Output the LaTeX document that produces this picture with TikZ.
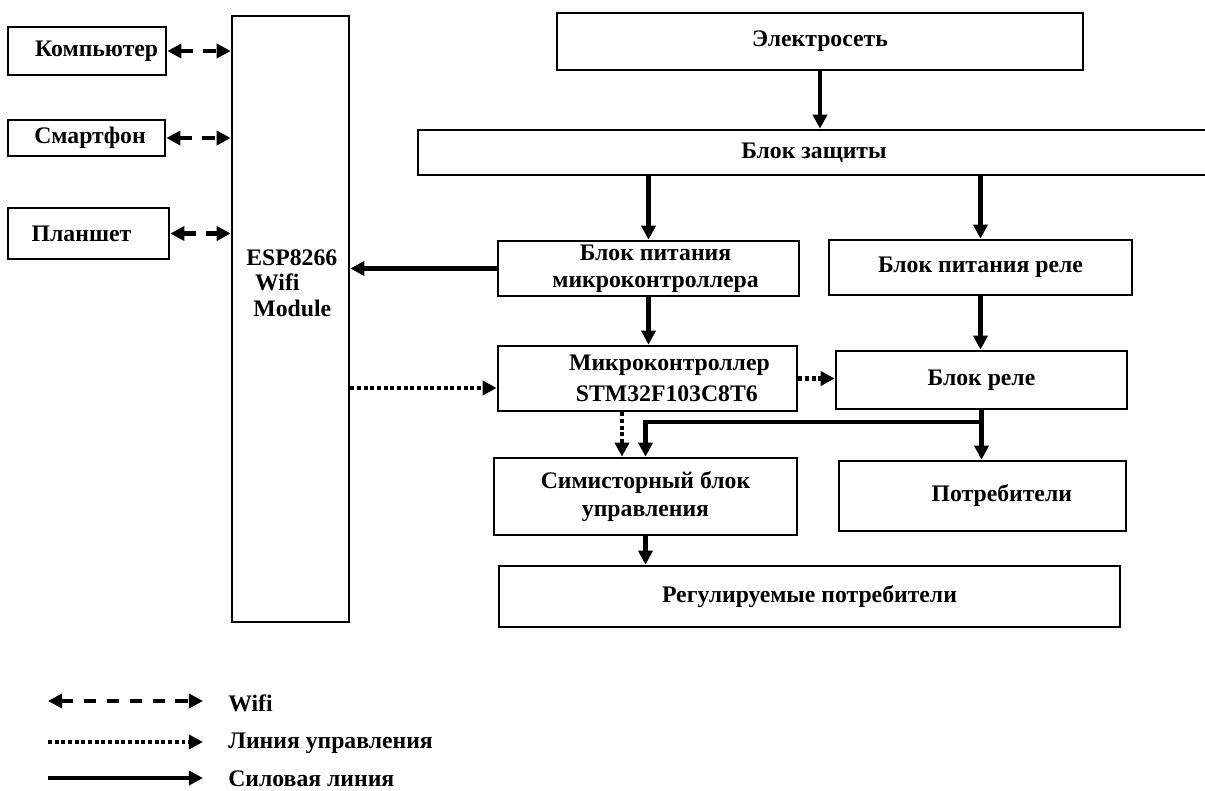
\documentclass[tikz,border=0pt]{standalone}
\usepackage{fontspec}
\setmainfont{Liberation Serif}
\usetikzlibrary{arrows.meta}

\begin{document}
\begin{tikzpicture}[x=0.02cm,y=-0.02cm,
    blk/.style={draw,line width=1.5pt,inner sep=2pt,align=center,
      font=\bfseries\fontsize{13.5}{15.5}\selectfont},
    sz/.style 2 args={minimum width=#1*0.02cm,minimum height=#2*0.02cm},
    txt/.style={inner sep=0pt,align=left,font=\bfseries\fontsize{13.5}{14.5}\selectfont},
    power/.style={line width=2.3pt,-{Triangle[length=8pt,width=8pt]}},
    ctrl/.style={power,dash pattern=on 2.2pt off 1.6pt},
    wifi/.style={line width=2.3pt,dash pattern=on 7pt off 6pt,
      {Triangle[length=8pt,width=8pt]}-{Triangle[length=8pt,width=8pt]}}]
  \useasboundingbox (0,0) rectangle (1205,791);
  % devices
  \node[blk,sz={158}{48}] (pc) at (87,51) {\hspace*{11pt}Компьютер};
  \node[blk,sz={157}{36}] (phone) at (86.5,138) {\hspace*{4pt}Смартфон};
  \node[blk,sz={161}{51}] (tablet) at (88.5,233.5) {Планшет\hspace*{8pt}};
  \node[blk,sz={117}{606}] (esp) at (290.5,319) {};
  \node[txt,anchor=west] (esptxt) at (246,283)
    {ESP8266\\\hspace*{5pt}Wifi\\\hspace*{4pt}Module};
  % power part
  \node[blk,sz={526}{57}] (grid) at (820,41.5) {Электросеть};
  \node[blk,sz={792}{45}] (prot) at (814,152.5) {Блок защиты};
  \node[blk,sz={301}{55},inner ysep=0pt,font=\bfseries\fontsize{13.5}{15.5}\selectfont] (psu) at (648.5,268.5)
    {\hspace*{8pt}Блок питания\\\hspace*{8pt}микроконтроллера};
  \node[blk,sz={303}{55}] (rpsu) at (980.5,267.5) {Блок питания реле};
  \node[blk,sz={299}{65},font=\bfseries\fontsize{13.5}{18}\selectfont] (mcu) at (647.5,378.5)
    {\hspace*{25pt}Микроконтроллер\\\hspace*{22pt}STM32F103C8T6};
  \node[blk,sz={291}{58}] (relay) at (981.5,380) {Блок реле};
  \node[blk,sz={303}{77}] (triac) at (645.5,496.5) {Симисторный блок\\управления};
  \node[blk,sz={287}{70}] (load) at (982.5,496) {\hspace*{22pt}Потребители};
  \node[blk,sz={621}{61}] (rload) at (809.5,596.5) {Регулируемые потребители};

  \draw[wifi] (pc.east) -- (pc.east -| esp.west);
  \draw[wifi] (phone.east) -- (phone.east -| esp.west);
  \draw[wifi] (tablet.east) -- (tablet.east -| esp.west);

  \begin{scope}[power]
    \draw (grid.south) -- (grid.south |- prot.north);
    \draw (psu.north |- prot.south) -- (psu.north);
    \draw (rpsu.north |- prot.south) -- (rpsu.north);
    \draw (psu.west) -- (psu.west -| esp.east);
    \draw (psu.south) -- (psu.south |- mcu.north);
    \draw (rpsu.south) -- (rpsu.south |- relay.north);
    \draw (relay.south) -- (relay.south |- load.north);
    \coordinate (split) at ([yshift=-0.24cm]relay.south);
    \draw (split) -| (triac.north);
    \draw (triac.south) -- (triac.south |- rload.north);
  \end{scope}

  \begin{scope}[ctrl]
    \coordinate (cin) at ([yshift=-0.19cm]mcu.west);
    \draw (cin -| esp.east) -- (cin);
    \draw (mcu.east) -- (mcu.east -| relay.west);
    \coordinate (cout) at ([xshift=-0.51cm]mcu.south);
    \draw (cout) -- (cout |- triac.north);
  \end{scope}

  % legend
  \coordinate (lw1) at (48,701);
  \coordinate (lw2) at (203,701);
  \coordinate (lc1) at (48,742);
  \coordinate (lc2) at (203,742);
  \coordinate (lp1) at (48,778);
  \coordinate (lp2) at (203,778);
  \draw[wifi] (lw1) -- (lw2);
  \draw[ctrl] (lc1) -- (lc2);
  \draw[power] (lp1) -- (lp2);
  \node[txt,anchor=west] (lwifi) at (228,703) {Wifi};
  \node[txt,anchor=west] (lctrl) at (228,743) {Линия управления};
  \node[txt,anchor=west] (lpower) at (228,779) {Силовая линия};
\end{tikzpicture}
\end{document}
